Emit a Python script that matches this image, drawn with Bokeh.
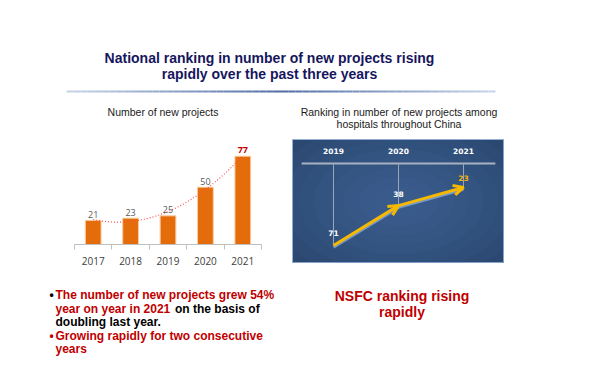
import numpy as np
from bokeh.plotting import figure
from bokeh.models import Range1d, FixedTicker, Arrow, OpenHead, Spacer, ColumnDataSource
from bokeh.layouts import column, row
from bokeh.core.properties import value
from bokeh.embed import file_html
from bokeh.resources import INLINE

# ---------------- data ----------------
years = [2017, 2018, 2019, 2020, 2021]
new_projects = [21, 23, 25, 50, 77]

rank_years = [2019, 2020, 2021]
rank_values = [71, 38, 23]

title_lines = ["National ranking in number of new projects rising",
               "rapidly over the past three years"]
left_title = "Number of new projects"
right_title = ["Ranking in number of new projects among",
               "hospitals throughout China"]
bullet_red_1 = "The number of new projects grew 54%"
bullet_red_2 = "year on year in 2021"
bullet_black_2 = "on the basis of"
bullet_black_3 = "doubling last year."
bullet_red_4 = "Growing rapidly for two consecutive"
bullet_red_5 = "years"
right_note = ["NSFC ranking rising", "rapidly"]

ARIAL = value("Liberation Sans")
NUMF = value("Open Sans")
RED = "#c00000"


def blank(w, h):
    p = figure(width=w, height=h, x_range=Range1d(0, w), y_range=Range1d(h, 0),
               output_backend="svg", toolbar_location=None,
               x_axis_location=None, y_axis_location=None, min_border=0)
    p.grid.visible = False
    p.outline_line_color = None
    return p


# ---------------- header ----------------
W = 583
header = blank(W, 125)
header.text(x=[261, 261], y=[49, 65], text=title_lines, text_font=ARIAL,
            text_font_style="bold", text_font_size="14px", text_color="#16165e",
            text_align="center", text_baseline="middle")
# gradient separator line
sx = np.linspace(58, 487, 61)
mid = (sx[0] + sx[-1]) / 2
half = (sx[-1] - sx[0]) / 2
c_end = np.array([0xc8, 0xd6, 0xea])
c_mid = np.array([0x4f, 0x6c, 0xa3])
seg_colors = []
for a, b in zip(sx[:-1], sx[1:]):
    t = 1 - abs((a + b) / 2 - mid) / half
    c = (c_end + (c_mid - c_end) * t).astype(int)
    seg_colors.append("#%02x%02x%02x" % tuple(c))
header.segment(x0=sx[:-1], y0=83, x1=sx[1:], y1=83, line_color=seg_colors, line_width=2)
header.text(x=[154.5], y=[103], text=[left_title], text_font=ARIAL,
            text_font_size="10.5px", text_color="#1a1a1a",
            text_align="center", text_baseline="middle")
header.text(x=[390.5, 390.5], y=[103.5, 115.5], text=right_title, text_font=ARIAL,
            text_font_size="10.5px", text_color="#1a1a1a",
            text_align="center", text_baseline="middle")

# ---------------- bar chart ----------------
bar = figure(width=220, height=135, x_range=Range1d(years[0] - 0.5, years[-1] + 0.5),
             y_range=Range1d(0, 92.5), output_backend="svg", toolbar_location=None,
             y_axis_location=None, x_axis_location="below",
             min_border_left=14, min_border_right=19, min_border_top=5, min_border_bottom=24)
bar.grid.visible = False
bar.outline_line_color = None
bounds = [y - 0.5 for y in years] + [years[-1] + 0.5]
ax = bar.xaxis[0]
ax.ticker = FixedTicker(ticks=years, minor_ticks=bounds)
ax.major_tick_out = 0
ax.major_tick_in = 0
ax.major_tick_line_color = None
ax.minor_tick_out = 5
ax.minor_tick_in = 0
ax.minor_tick_line_color = "#bfbfbf"
ax.axis_line_color = "#bfbfbf"
ax.major_label_standoff = 7
ax.major_label_text_font = "Open Sans"
ax.major_label_text_font_size = "10px"
ax.major_label_text_color = "#404040"

bar.vbar(x=years, top=new_projects, width=0.42, fill_color="#e46c0a",
         line_color="#f9caa0", line_width=1)

coef = np.polyfit(np.array(years) - years[2], new_projects, 2)
tx = np.linspace(years[0], years[-1], 80)
bar.line(tx, np.polyval(coef, tx - years[2]), line_color="#ff4d4d",
         line_dash="1 2", line_width=1.2)

bar.text(x=years[:-1], y=new_projects[:-1], text=[str(v) for v in new_projects[:-1]],
         text_font=NUMF, text_font_size="9px", text_color="#595959",
         text_align="center", text_baseline="alphabetic", y_offset=-6)
bar.text(x=years[-1:], y=new_projects[-1:], text=[str(v) for v in new_projects[-1:]],
         text_font=NUMF, text_font_size="9px", text_font_style="bold", text_color=RED,
         text_align="center", text_baseline="alphabetic", y_offset=-6)

# ---------------- ranking panel ----------------
rk = figure(width=212, height=124, x_range=Range1d(2018.369, 2021.631),
            y_range=Range1d(85.9, -16.7), output_backend="svg", toolbar_location=None,
            x_axis_location=None, y_axis_location=None, min_border=0)
rk.grid.visible = False
rk.background_fill_color = "#182f50"
rk.border_fill_color = "#182f50"
rk.outline_line_color = "#a9c2e2"
rk.outline_line_width = 1

# soft radial light
widths = list(range(440, 20, -30))
rk.ellipse(x=2020, y=34.6, width=widths, height=[w * 0.62 for w in widths],
           width_units="screen", height_units="screen",
           fill_color="#4a74a8", fill_alpha=0.075, line_color=None)

axis_rank = 3.1
rk.segment(x0=rank_years[0] - 0.49, y0=axis_rank, x1=rank_years[-1] + 0.49, y1=axis_rank,
           line_color="#a8b1c0", line_width=2)
rk.text(x=rank_years, y=[axis_rank] * 3, text=[str(y) for y in rank_years],
        text_font=value("DejaVu Sans"), text_font_style="bold", text_font_size="7.5px",
        text_color="#ffffff", text_align="center", text_baseline="middle", y_offset=-12)
rk.segment(x0=rank_years, y0=[axis_rank] * 3, x1=rank_years, y1=rank_values,
           line_color="#9aa6b8", line_width=1)

# shadow and arrow
rk.line(x=rank_years, y=[r + 1.5 for r in rank_values], line_color="#8fb4e3",
        line_width=3, line_alpha=0.7)
asrc = ColumnDataSource(dict(x0=rank_years[:-1], y0=rank_values[:-1],
                             x1=rank_years[1:], y1=rank_values[1:]))
rk.add_layout(Arrow(end=OpenHead(size=10, line_color="#f7b900", line_width=3),
                    x_start="x0", y_start="y0", x_end="x1", y_end="y1", source=asrc,
                    line_color="#f7b900", line_width=3))

rk.text(x=rank_years[:-1], y=rank_values[:-1], text=[str(v) for v in rank_values[:-1]],
        text_font=value("DejaVu Sans"), text_font_style="bold", text_font_size="7.5px",
        text_color="#ffffff", text_align="center", text_baseline="middle", y_offset=-12)
rk.text(x=rank_years[-1:], y=rank_values[-1:], text=[str(v) for v in rank_values[-1:]],
        text_font=value("DejaVu Sans"), text_font_style="bold", text_font_size="7.5px",
        text_color="#f4b400", text_align="center", text_baseline="middle", y_offset=-9)

# ---------------- footer ----------------
footer = blank(W, 98)
fkw = dict(text_font=ARIAL, text_font_style="bold", text_font_size="12px",
           text_baseline="middle", text_align="left")
footer.text(x=[41], y=[26.5], text=["\u2022"], text_color="#000000", **fkw)
footer.text(x=[41], y=[67], text=["\u2022"], text_color=RED, **fkw)
footer.text(x=[47, 47, 47, 47], y=[26.5, 40, 67, 80.5],
            text=[bullet_red_1, bullet_red_2, bullet_red_4, bullet_red_5],
            text_color=RED, **fkw)
footer.text(x=[166.5, 47], y=[40, 53.5], text=[bullet_black_2, bullet_black_3],
            text_color="#000000", **fkw)
footer.text(x=[393.5, 393.5], y=[27, 43.5], text=right_note, text_font=ARIAL,
            text_font_style="bold", text_font_size="14px", text_color=RED,
            text_align="center", text_baseline="middle")

# ---------------- layout ----------------
middle = row(Spacer(width=52, height=135), bar, Spacer(width=12, height=135),
             column(Spacer(width=212, height=6), rk, Spacer(width=212, height=5)),
             Spacer(width=79, height=135))
inner = column(header, middle, footer)
layout = column(Spacer(width=583, height=8), row(Spacer(width=8, height=358), inner))

open("out.html", "w").write(file_html(layout, INLINE))
